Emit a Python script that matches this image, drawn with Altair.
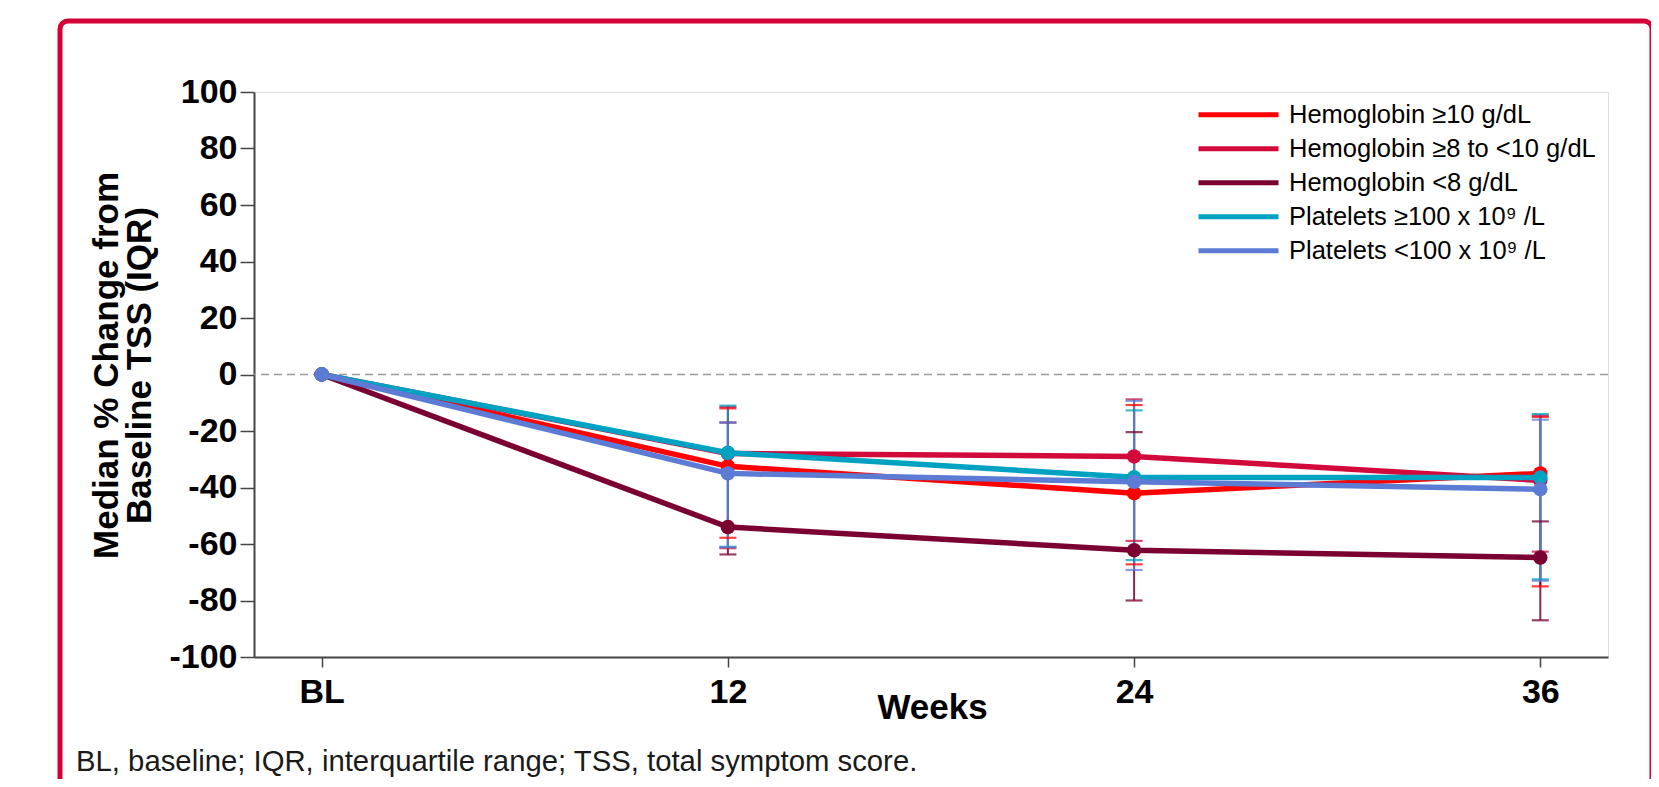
import altair as alt
import pandas as pd
import numpy as np

# ---------------- data ----------------
series_names = [
    "Hemoglobin ≥10 g/dL",
    "Hemoglobin ≥8 to <10 g/dL",
    "Hemoglobin <8 g/dL",
    "Platelets ≥100 x 10⁹ /L",
    "Platelets <100 x 10⁹ /L",
]
series_colors = ["#FE0000", "#D20A3C", "#7A0032", "#00A2C1", "#5B7BD5"]

weeks = [0, 12, 24, 36]
week_labels = ["BL", "12", "24", "36"]

median_hgb10 = [0, -32.5, -42.0, -35.0]
median_hgb8_10 = [0, -28.0, -29.0, -37.5]
median_hgb8 = [0, -54.0, -62.2, -64.8]
median_plt100 = [0, -27.7, -36.4, -36.5]
median_pltlt100 = [0, -35.0, -38.0, -40.6]

q3_hgb10 = [None, -12.0, -10.8, -15.0]
q3_hgb8_10 = [None, -11.5, -8.8, -14.5]
q3_hgb8 = [None, -17.0, -20.4, -52.0]
q3_plt100 = [None, -11.0, -12.7, -14.0]
q3_pltlt100 = [None, -17.0, -9.3, -16.0]

q1_hgb10 = [None, -57.8, -67.2, -75.0]
q1_hgb8_10 = [None, -61.5, -58.9, -62.7]
q1_hgb8 = [None, -63.7, -80.0, -87.0]
q1_plt100 = [None, -61.0, -65.7, -72.5]
q1_pltlt100 = [None, -61.1, -69.2, -73.0]

y_ticks = [-100, -80, -60, -40, -20, 0, 20, 40, 60, 80, 100]
footnote = "BL, baseline; IQR, interquartile range; TSS, total symptom score."

medians = [median_hgb10, median_hgb8_10, median_hgb8, median_plt100, median_pltlt100]
q3s = [q3_hgb10, q3_hgb8_10, q3_hgb8, q3_plt100, q3_pltlt100]
q1s = [q1_hgb10, q1_hgb8_10, q1_hgb8, q1_plt100, q1_pltlt100]

rows = []
for i, name in enumerate(series_names):
    for j, w in enumerate(weeks):
        rows.append({
            "series": name, "idx": i, "week": w,
            "median": medians[i][j],
            "q1": np.nan if q1s[i][j] is None else q1s[i][j],
            "q3": np.nan if q3s[i][j] is None else q3s[i][j],
        })
df = pd.DataFrame(rows)
df_err = df.dropna(subset=["q1", "q3"])

FONT = "Liberation Sans"

color_enc = alt.Color(
    "series:N",
    scale=alt.Scale(domain=series_names, range=series_colors),
    legend=alt.Legend(
        title=None, orient="none", legendX=942, legendY=6,
        symbolType="stroke", symbolSize=6400, symbolStrokeWidth=5,
        symbolOpacity=1, clipHeight=33.4, rowPadding=0,
        labelFontSize=25.5, labelFont=FONT, labelColor="#000000",
        labelOffset=8, labelLimit=600,
    ),
)

x_enc = alt.X(
    "week:Q",
    scale=alt.Scale(domain=[-2, 38], nice=False, zero=False),
    axis=alt.Axis(
        values=weeks,
        labelExpr="datum.value == 0 ? 'BL' : datum.label",
        title="Weeks", titleX=678, titleY=33, titleBaseline="top",
        titleAlign="center", titleFontSize=35, titleFontWeight="bold",
        titleFont=FONT, titleColor="#000000",
        labelFontSize=34, labelFontWeight="bold", labelFont=FONT,
        labelColor="#000000", labelPadding=8, tickSize=10,
        tickColor="#444444", tickWidth=1.5, domainColor="#444444",
        domainWidth=2, grid=False,
    ),
)

y_enc = alt.Y(
    "median:Q",
    scale=alt.Scale(domain=[-100, 100], nice=False),
    axis=alt.Axis(
        values=y_ticks,
        labelExpr="'' + datum.value",
        title=["Median % Change from", "Baseline TSS (IQR)"],
        titleX=-148, titleY=273, titleAngle=270, titleBaseline="middle",
        titleAlign="center", titleFontSize=35, titleFontWeight="bold",
        titleFont=FONT, titleColor="#000000", titleLineHeight=33,
        labelFontSize=34, labelFontWeight="bold", labelFont=FONT,
        labelColor="#000000", labelPadding=3, tickSize=14,
        tickColor="#444444", tickWidth=1.5, domainColor="#444444",
        domainWidth=2, grid=False,
    ),
)

base = alt.Chart(df)

zero_line = alt.Chart(pd.DataFrame({"z": [0]})).mark_rule(
    color="#9a9a9a", strokeDash=[8, 5], strokeWidth=1.5
).encode(y=alt.Y("z:Q", scale=alt.Scale(domain=[-100, 100], nice=False)))

err_base = alt.Chart(df_err)
whisker = err_base.mark_rule(strokeWidth=2, opacity=0.85).encode(
    x=x_enc, y=alt.Y("q1:Q"), y2="q3:Q", color=color_enc
)
cap_low = err_base.mark_tick(orient="horizontal", size=17, thickness=2.2, opacity=0.75).encode(
    x=x_enc, y=alt.Y("q1:Q"), color=color_enc
)
cap_high = err_base.mark_tick(orient="horizontal", size=17, thickness=2.2, opacity=0.75).encode(
    x=x_enc, y=alt.Y("q3:Q"), color=color_enc
)

layers = [zero_line, whisker, cap_low, cap_high]
for name in series_names:
    sub = base.transform_filter(alt.datum.series == name)
    layers.append(sub.mark_line(strokeWidth=5.5).encode(x=x_enc, y=y_enc, color=color_enc))
    layers.append(sub.mark_circle(size=210, opacity=1).encode(x=x_enc, y=y_enc, color=color_enc))

border = alt.Chart(pd.DataFrame({"b": [1]})).mark_rect(
    fillOpacity=0, stroke="#D50037", strokeWidth=5, cornerRadius=8
).encode(
    x=alt.value(-194), x2=alt.value(1398), y=alt.value(-71), y2=alt.value(740)
)

note = alt.Chart(pd.DataFrame({"t": [footnote]})).mark_text(
    align="left", baseline="alphabetic", fontSize=29.3, font=FONT, color="#1a1a1a"
).encode(x=alt.value(-178), y=alt.value(679), text="t:N")

layers += [border, note]

chart = alt.layer(*layers).resolve_scale(color="shared").properties(
    width=1354, height=565,
    padding={"left": 246, "top": 84, "right": 43, "bottom": 122},
    autosize=alt.AutoSizeParams(type="none"),
).configure_view(stroke=None).configure(font=FONT)

chart.save("out.html", embed_options={"renderer": "svg", "actions": False})
